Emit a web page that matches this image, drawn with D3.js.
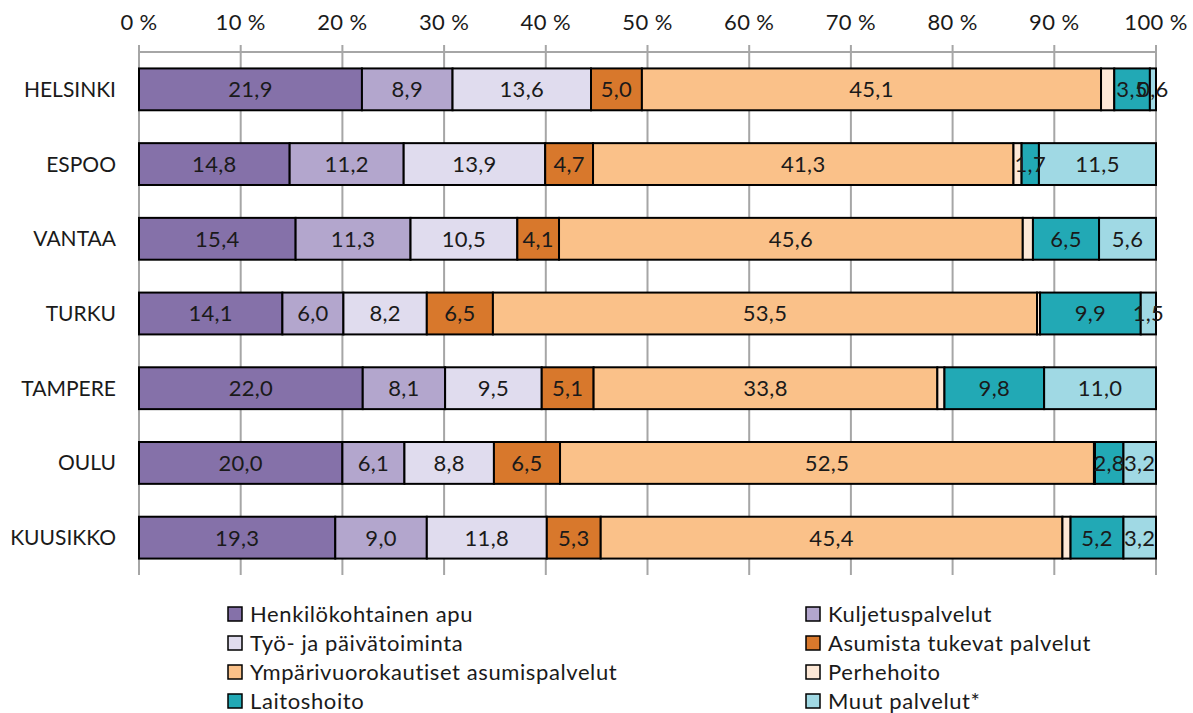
<!DOCTYPE html>
<html><head><meta charset="utf-8">
<script src="https://cdn.jsdelivr.net/npm/d3@7"></script>
<style>
body{margin:0;background:#fff;}
text{font-family:Lato,"Open Sans",sans-serif;fill:#1a1a1a;}
</style></head>
<body><svg id="c" width="1193" height="713"></svg>
<script>
const categories = ["HELSINKI","ESPOO","VANTAA","TURKU","TAMPERE","OULU","KUUSIKKO"];
const seriesNames = ["Henkilökohtainen apu","Kuljetuspalvelut","Työ- ja päivätoiminta","Asumista tukevat palvelut","Ympärivuorokautiset asumispalvelut","Perhehoito","Laitoshoito","Muut palvelut*"];
const henkilokohtainen = [21.9,14.8,15.4,14.1,22.0,20.0,19.3];
const kuljetus = [8.9,11.2,11.3,6.0,8.1,6.1,9.0];
const tyo = [13.6,13.9,10.5,8.2,9.5,8.8,11.8];
const asumistaTukevat = [5.0,4.7,4.1,6.5,5.1,6.5,5.3];
const ymparivuorokautiset = [45.1,41.3,45.6,53.5,33.8,52.5,45.4];
const perhehoito = [1.3,0.8,1.0,0.3,0.7,0.1,0.8];
const laitoshoito = [3.5,1.7,6.5,9.9,9.8,2.8,5.2];
const muut = [0.6,11.5,5.6,1.5,11.0,3.2,3.2];
const tickLabels = ["0 %","10 %","20 %","30 %","40 %","50 %","60 %","70 %","80 %","90 %","100 %"];
const colors = ["#8571a9","#b3a6cd","#e0dcee","#d8782c","#fac189","#fde8d6","#22a9b5","#a0d9e4"];
const showLabel = [true,true,true,true,true,false,true,true];

const allSeries = [henkilokohtainen,kuljetus,tyo,asumistaTukevat,ymparivuorokautiset,perhehoito,laitoshoito,muut];
const rows = categories.map((c,i)=>{const r={cat:c}; seriesNames.forEach((s,j)=>r[s]=allSeries[j][i]); return r;});
const stack = d3.stack().keys(seriesNames).offset(d3.stackOffsetExpand);
const layers = stack(rows);

const svg = d3.select("#c");
const x = d3.scaleLinear().domain([0,1]).range([139,1156]);
const y = d3.scaleBand().domain(categories).range([52,575]).paddingInner(0.44).paddingOuter(0.22);
const grid = "#a6a6a6";

// gridlines
const ticks = d3.range(0,11).map(d=>d/10);
svg.append("g").selectAll("line").data(ticks).join("line")
  .attr("x1",d=>x(d)).attr("x2",d=>x(d)).attr("y1",45).attr("y2",575)
  .attr("stroke",grid).attr("stroke-width",2);
svg.append("line").attr("x1",x(0)).attr("x2",x(1)).attr("y1",52).attr("y2",52).attr("stroke",grid).attr("stroke-width",2);

// tick labels
svg.append("g").selectAll("text").data(ticks).join("text")
  .attr("x",d=>x(d)).attr("y",30).attr("text-anchor","middle")
  .attr("font-size",22).attr("letter-spacing",0.4).text((d,i)=>tickLabels[i]);

// bars
const g = svg.append("g");
layers.forEach((layer,j)=>{
  g.append("g").selectAll("rect").data(layer).join("rect")
    .attr("x",d=>x(d[0])).attr("width",d=>x(d[1])-x(d[0]))
    .attr("y",d=>y(d.data.cat)).attr("height",y.bandwidth())
    .attr("fill",colors[j]).attr("stroke","#000").attr("stroke-width",2);
});
layers.forEach((layer,j)=>{
  if(!showLabel[j]) return;
  g.append("g").selectAll("text").data(layer).join("text")
    .attr("x",d=>(x(d[0])+x(d[1]))/2).attr("y",d=>y(d.data.cat)+y.bandwidth()/2)
    .attr("dy","0.36em").attr("text-anchor","middle").attr("font-size",22).attr("letter-spacing",0.3)
    .text(d=>d3.format(".1f")(d.data[layer.key]).replace(".",","));
});

// category labels
svg.append("g").selectAll("text").data(categories).join("text")
  .attr("x",116).attr("y",d=>y(d)+y.bandwidth()/2).attr("dy","0.36em")
  .attr("text-anchor","end").attr("font-size",21).text(d=>d);

// legend
const legX = [228,806], legY = [614,643,672,701];
const leg = svg.append("g").selectAll("g").data(seriesNames).join("g")
  .attr("transform",(d,i)=>`translate(${legX[i%2]},${legY[Math.floor(i/2)]})`);
leg.append("rect").attr("x",0).attr("y",-7).attr("width",14).attr("height",14)
  .attr("fill",(d,i)=>colors[i]).attr("stroke","#000").attr("stroke-width",1.5);
leg.append("text").attr("x",22).attr("y",0).attr("dy","0.36em").attr("font-size",22).attr("letter-spacing",0.6).text(d=>d);
</script></body></html>
